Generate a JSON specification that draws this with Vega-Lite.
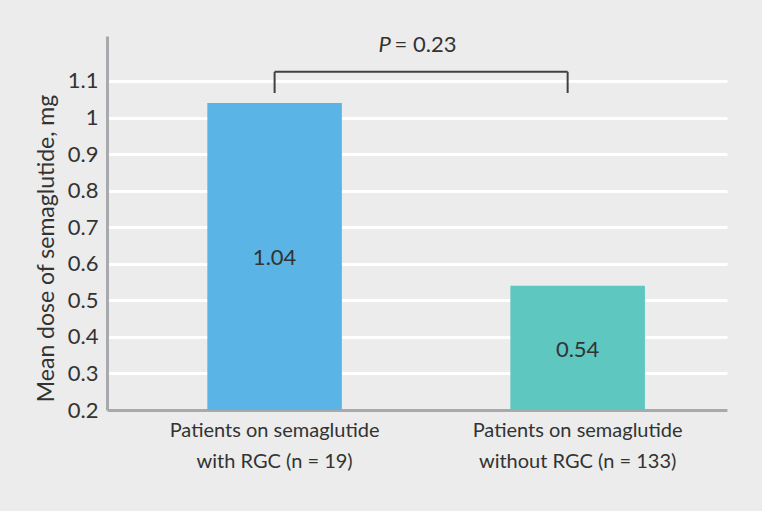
{
  "$schema": "https://vega.github.io/schema/vega-lite/v6.json",
  "autosize": {"type": "none"},
  "padding": {"left": 107, "top": 36, "right": 35, "bottom": 101},
  "width": 620,
  "height": 374,
  "background": "#ebeceb",
  "view": {"fill": null, "stroke": null},
  "data": {
    "values": [
      {"group": "Patients on semaglutide with RGC (n = 19)", "dose": 1.04},
      {"group": "Patients on semaglutide without RGC (n = 133)", "dose": 0.54}
    ]
  },
  "encoding": {
    "x": {
      "field": "group",
      "type": "nominal",
      "sort": null,
      "scale": {"paddingInner": 0.556, "paddingOuter": 0.301, "align": 0.55},
      "axis": {
        "title": null,
        "labelAngle": 0,
        "labelExpr": "[slice(datum.label, 0, 23), slice(datum.label, 24)]",
        "labelFontSize": 20,
        "labelLineHeight": 31,
        "labelPadding": 10,
        "labelLimit": 400
      }
    }
  },
  "layer": [
    {
      "mark": {"type": "bar"},
      "encoding": {
        "y": {
          "field": "dose",
          "type": "quantitative",
          "scale": {"domain": [0.2, 1.223], "nice": false, "zero": false},
          "axis": {
            "title": "Mean dose of semaglutide, mg",
            "values": [0.2, 0.3, 0.4, 0.5, 0.6, 0.7, 0.8, 0.9, 1, 1.1],
            "format": "~g",
            "grid": true,
            "labelFontSize": 22,
            "titleFontSize": 23,
            "titleX": -61,
            "titleY": 212,
            "titleBaseline": "middle",
            "titleAlign": "center"
          }
        },
        "y2": {"datum": 0.2},
        "color": {
          "field": "group",
          "type": "nominal",
          "scale": {"range": ["#5ab4e6", "#5ec7bf"]},
          "legend": null
        }
      }
    },
    {
      "transform": [{"calculate": "(datum.dose + 0.2) / 2", "as": "mid"}],
      "mark": {"type": "text", "fontSize": 22, "color": "#333333", "baseline": "middle", "dy": 2},
      "encoding": {
        "y": {"field": "mid", "type": "quantitative"},
        "text": {"field": "dose", "type": "quantitative", "format": ".2f"}
      }
    },
    {
      "data": {"values": [{}]},
      "mark": {"type": "rule", "color": "#404040", "strokeWidth": 2, "x2Offset": -10},
      "encoding": {
        "x": {"datum": "Patients on semaglutide with RGC (n = 19)", "type": "nominal"},
        "x2": {"datum": "Patients on semaglutide without RGC (n = 133)"},
        "y": {"datum": 1.125, "type": "quantitative"}
      }
    },
    {
      "data": {"values": [{}]},
      "mark": {"type": "rule", "color": "#404040", "strokeWidth": 2},
      "encoding": {
        "x": {"datum": "Patients on semaglutide with RGC (n = 19)", "type": "nominal"},
        "y": {"datum": 1.125, "type": "quantitative"},
        "y2": {"datum": 1.067}
      }
    },
    {
      "data": {"values": [{}]},
      "mark": {"type": "rule", "color": "#404040", "strokeWidth": 2, "xOffset": -10},
      "encoding": {
        "x": {"datum": "Patients on semaglutide without RGC (n = 133)", "type": "nominal"},
        "y": {"datum": 1.125, "type": "quantitative"},
        "y2": {"datum": 1.067}
      }
    },
    {
      "data": {"values": [{}]},
      "mark": {"type": "text", "text": "P", "fontStyle": "italic", "fontSize": 22, "color": "#333333", "align": "left", "baseline": "middle", "dx": 104},
      "encoding": {
        "x": {"datum": "Patients on semaglutide with RGC (n = 19)", "type": "nominal"},
        "y": {"datum": 1.198, "type": "quantitative"}
      }
    },
    {
      "data": {"values": [{}]},
      "mark": {"type": "text", "text": "= 0.23", "fontSize": 22, "color": "#333333", "align": "left", "baseline": "middle", "dx": 120},
      "encoding": {
        "x": {"datum": "Patients on semaglutide with RGC (n = 19)", "type": "nominal"},
        "y": {"datum": 1.198, "type": "quantitative"}
      }
    }
  ],
  "config": {
    "font": "Lato",
    "text": {"font": "Lato"},
    "axis": {
      "labelFont": "Lato",
      "titleFont": "Lato",
      "titleFontWeight": "normal",
      "labelColor": "#333333",
      "titleColor": "#333333",
      "domainColor": "#a8a9ad",
      "domainWidth": 3,
      "ticks": false,
      "gridColor": "#ffffff",
      "gridWidth": 3,
      "gridOpacity": 1,
      "labelPadding": 9,
      "zindex": 1
    },
    "axisX": {"grid": false}
  }
}
